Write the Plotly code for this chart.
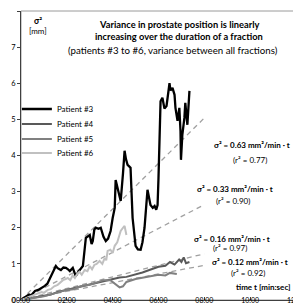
import plotly.graph_objects as go

# ---- data (time in minutes, variance sigma^2 in mm^2) ----
p3_t = [0.0, 0.1, 0.22, 0.35, 0.45, 0.61, 0.75, 0.9, 1.04, 1.15, 1.30, 1.4, 1.52, 1.6, 1.74, 1.85, 1.96, 2.05,
        2.13, 2.26, 2.39, 2.5, 2.57, 2.70, 2.83, 2.92, 3.0, 3.08, 3.13, 3.2, 3.26, 3.38, 3.48, 3.6, 3.70, 3.8,
        3.91, 4.0, 4.09, 4.13, 4.22, 4.30, 4.35, 4.45, 4.52, 4.58, 4.65, 4.72, 4.78, 4.87, 4.95, 5.0, 5.1, 5.22,
        5.3, 5.39, 5.52, 5.6, 5.65, 5.75, 5.83, 5.9, 5.96, 6.0, 6.09, 6.17, 6.26, 6.35, 6.42, 6.48, 6.52, 6.61,
        6.70, 6.74, 6.83, 6.91, 6.96, 6.98, 7.04, 7.13, 7.17, 7.26, 7.35]
p3_v = [0.0, 0.05, 0.11, 0.15, 0.13, 0.25, 0.28, 0.33, 0.39, 0.45, 0.66, 0.75, 0.94, 0.88, 0.83, 0.9, 0.89, 0.85,
        0.80, 0.89, 0.66, 0.78, 0.83, 0.94, 1.72, 1.75, 1.80, 1.55, 1.63, 1.95, 2.0, 1.97, 2.0, 1.75, 1.63, 1.7,
        1.91, 2.27, 2.55, 3.32, 3.1, 2.83, 2.74, 3.5, 4.13, 3.9, 3.74, 3.7, 3.66, 2.27, 1.8, 1.5, 1.4, 1.39,
        1.6, 2.0, 3.05, 2.8, 2.63, 2.55, 2.6, 2.5, 2.63, 3.38, 5.5, 5.6, 5.3, 5.37, 5.7, 6.0, 5.8, 5.87,
        5.68, 5.32, 4.96, 5.32, 4.68, 3.88, 4.57, 5.04, 5.46, 4.85, 5.79]

p4_t = [0, 0.3, 0.6, 1.0, 1.3, 1.6, 2.0, 2.3, 2.6, 3.0, 3.3, 3.6, 4.0, 4.3, 4.6, 5.0, 5.3, 5.6, 6.0, 6.3, 6.5,
        6.7, 6.9, 7.0, 7.1, 7.2, 7.35]
p4_v = [0, 0.03, 0.08, 0.12, 0.15, 0.22, 0.28, 0.32, 0.36, 0.42, 0.48, 0.52, 0.58, 0.62, 0.64, 0.7, 0.76, 0.83,
        0.92, 0.95, 1.05, 0.98, 1.12, 1.05, 1.18, 1.02, 1.05]

p5_t = [0, 0.3, 0.6, 1.0, 1.3, 1.6, 2.0, 2.3, 2.6, 3.0, 3.3, 3.6, 3.9, 4.1, 4.3, 4.45, 4.6, 5.0, 5.3, 5.6, 6.0,
        6.3, 6.5, 6.8]
p5_v = [0, 0.02, 0.06, 0.1, 0.15, 0.2, 0.28, 0.3, 0.38, 0.42, 0.48, 0.55, 0.55, 0.45, 0.35, 0.38, 0.5, 0.58,
        0.62, 0.65, 0.7, 0.68, 0.75, 0.72]

p6_t = [0, 0.2, 0.4, 0.6, 0.74, 0.9, 1.0, 1.17, 1.3, 1.45, 1.6, 1.7, 1.83, 1.95, 2.04, 2.15, 2.25, 2.35, 2.45,
        2.55, 2.65, 2.78, 2.9, 3.0, 3.1, 3.2, 3.3, 3.43, 3.55, 3.65, 3.72, 3.78, 3.9, 4.0, 4.09, 4.2, 4.35, 4.45,
        4.52, 4.6]
p6_v = [0, 0.04, 0.1, 0.15, 0.19, 0.22, 0.2, 0.28, 0.3, 0.38, 0.42, 0.48, 0.55, 0.58, 0.61, 0.55, 0.68, 0.61,
        0.72, 0.78, 0.7, 0.83, 0.8, 0.94, 0.85, 0.97, 1.0, 1.08, 1.0, 1.16, 1.1, 1.36, 1.39, 1.3, 1.5, 1.6, 1.91,
        2.0, 2.05, 1.8]

fit_slopes = [0.63, 0.33, 0.16, 0.12]
fit_r2 = [0.77, 0.90, 0.97, 0.92]
fit_t = [0, 8]

x_tickvals = [0, 2, 4, 6, 8, 10, 12]
x_ticktext = ["00:00", "02:00", "04:00", "06:00", "08:00", "10:00", "12:00"]
y_tickvals = [0, 1, 2, 3, 4, 5, 6, 7, 8]

FONT = "Lato"

fig = go.Figure()

for s in fit_slopes:
    fig.add_trace(go.Scatter(x=fit_t, y=[s * t for t in fit_t], mode="lines",
                             line=dict(color="#a0a0a0", width=1.3, dash="5px,4px"),
                             showlegend=False, hoverinfo="skip"))

series = [("Patient #3", p3_t, p3_v, "#000000", 2.3),
          ("Patient #4", p4_t, p4_v, "#595959", 2),
          ("Patient #5", p5_t, p5_v, "#808080", 2),
          ("Patient #6", p6_t, p6_v, "#c0c0c0", 2)]
legend_names = ["legend", "legend2", "legend3", "legend4"]
legend_rows_px = [101, 116, 131, 145]  # vertical anchor of each legend row (pixels from top)
for (name, t, v, c, w), lg in zip(series, legend_names):
    fig.add_trace(go.Scatter(x=t, y=v, mode="lines", name=name, legend=lg,
                             line=dict(color=c, width=w)))

# plot-area frame
fig.add_shape(type="rect", xref="paper", yref="paper", x0=0, y0=0, x1=1, y1=1,
              line=dict(color="#9a9a9a", width=1), layer="below")

ann = []
ann.append(dict(x=6.91, y=7.62, text="<b>Variance in prostate position is linearly</b>", font=dict(size=9.3)))
ann.append(dict(x=6.91, y=7.29, text="<b>increasing over the duration of a fraction</b>", font=dict(size=9.3)))
ann.append(dict(x=6.65, y=6.93, text="(patients #3 to #6, variance between all fractions)", font=dict(size=9.7)))
ann.append(dict(x=0.74, y=7.72, text="<b>σ²</b>", font=dict(size=8.5)))
ann.append(dict(x=0.74, y=7.44, text="[mm]", font=dict(size=8)))
fit_pos = [(10.09, 4.3, 3.87), (9.35, 3.07, 2.74), (9.2, 1.69, 1.43), (10.0, 1.06, 0.76)]
for s, r, (x, y1, y2) in zip(fit_slopes, fit_r2, fit_pos):
    ann.append(dict(x=x, y=y1, text=f"<b>σ² = {s:.2f} mm²/min · t</b>", font=dict(size=8)))
    ann.append(dict(x=x - 0.1, y=y2, text=f"(r² = {r:.2f})", font=dict(size=8)))
ann.append(dict(x=11.87, y=0.36, text="<b>time t [min:sec]</b>", xanchor="right", font=dict(size=8)))
for a in ann:
    a.setdefault("xanchor", "center")
    a.update(xref="x", yref="y", showarrow=False, yanchor="middle")
    a["font"] = dict(family=FONT, color="#000000", size=a["font"]["size"])

top, bottom, H = 3, 292, 306
legend_cfg = {}
for lg, py in zip(legend_names, legend_rows_px):
    legend_cfg[lg] = dict(x=-0.015, y=(bottom - py) / (bottom - top), xanchor="left", yanchor="middle",
                          bgcolor="rgba(0,0,0,0)", font=dict(family=FONT, size=8), itemwidth=30)

fig.update_layout(
    width=301, height=H,
    margin=dict(l=13, r=13, t=top, b=H - bottom),
    paper_bgcolor="white", plot_bgcolor="white",
    font=dict(family=FONT, size=8, color="#000000"),
    annotations=ann,
    showlegend=True,
    **legend_cfg,
)
fig.update_xaxes(range=[0, 12], tickvals=x_tickvals, ticktext=x_ticktext, showgrid=False, zeroline=False,
                 showline=True, linecolor="#404040", linewidth=1, ticks="inside", ticklen=3,
                 tickcolor="#404040", tickfont=dict(size=7), ticklabelstandoff=-6)
fig.update_yaxes(range=[0, 8], tickvals=y_tickvals, showgrid=False, zeroline=False,
                 showline=True, linecolor="#404040", linewidth=1, ticks="outside", ticklen=3,
                 tickcolor="#404040", tickfont=dict(size=7.5))

fig.write_html("out.html")
